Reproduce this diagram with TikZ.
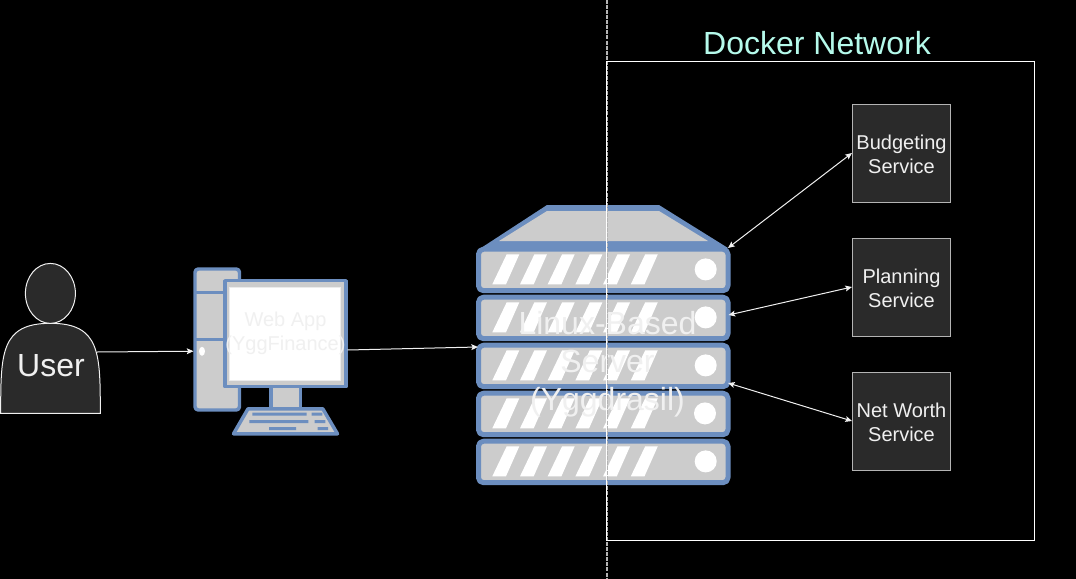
\documentclass[tikz,border=0pt]{standalone}
\usepackage{fontspec}
\setmainfont{Liberation Sans}
\usetikzlibrary{arrows.meta}
\definecolor{srvblue}{HTML}{6C8EBF}
\definecolor{srvgray}{HTML}{CCCCCC}
\definecolor{boxfill}{HTML}{2A2A2A}
\definecolor{linecol}{HTML}{F0F0F0}
\definecolor{dockertext}{HTML}{B5FAEB}
\tikzset{
  x=0.75pt,y=-0.75pt,
  hw/.style={draw=srvblue,fill=srvgray,line join=round},
  rackbox/.style={hw,line width=3.75pt,rounded corners=3.75pt},
  stripe/.style={fill=white,draw=none},
  svc/.style={draw=linecol!75!black,fill=boxfill,line width=0.75pt,minimum width=73.5pt,minimum height=73.5pt,inner sep=0pt},
  svctext/.style={text=linecol,align=center,inner sep=0pt,font=\fontsize{15}{18}\selectfont},
  bigtext/.style={text=linecol,align=center,inner sep=0pt,font=\fontsize{24}{28.5}\selectfont},
  midtext/.style={text=linecol,align=center,inner sep=0pt,font=\fontsize{15}{18}\selectfont},
  tipa/.tip={Stealth[length=5pt,width=4.4pt,inset=1pt]},
  conn/.style={draw=linecol,line width=0.75pt,-tipa},
  connb/.style={draw=linecol,line width=0.75pt,tipa-tipa},
  actor/.style={draw=linecol,fill=boxfill,line width=0.75pt},
}
\begin{document}
\begin{tikzpicture}
\useasboundingbox (0,0) rectangle (1076,579);
\fill[black] (0,0) rectangle (1076,579);

% user
\draw[actor] (0.7,413.3) .. controls (0.7,353.3) and (0.7,323.3) .. (50.5,323.3)
  .. controls (100.3,323.3) and (100.3,353.3) .. (100.3,413.3) -- cycle;
\draw[actor] (50.4,293.4) ellipse [x radius=25,y radius=30];
\node[bigtext] (user) at (51,366) {User};
\coordinate (userport) at (97,352);

% computer
\draw[hw,line width=2.6pt,rounded corners=2.5pt] (195,269) rectangle (239.5,410);
\draw[srvblue,line width=2.6pt] (195,292.3) -- (239.5,292.3) (195,339.3) -- (239.5,339.3);
\fill[white] (202,351.3) ellipse [x radius=3,y radius=4.5];
\draw[hw,line width=2.6pt] (271,386) rectangle (300.5,409);
\draw[hw,line width=2.6pt] (248,408.8) -- (322.8,408.8) -- (337.5,433.8) -- (233.5,433.8) -- cycle;
\fill[srvblue] (252.3,412.7) rectangle (306.7,415.7) (311.7,412.7) rectangle (322.3,415.7)
  (249.3,420) rectangle (308.3,423) (314.7,420) rectangle (325.3,423)
  (269,427) rectangle (296,430) (317.7,427) rectangle (328,430);
\draw[hw,line width=2.6pt] (225,280.7) rectangle (346,386.7);
\fill[white,draw=white!92!black,line width=0.75pt] (229.3,287.3) rectangle (340.7,380);
\node[midtext] (webapp) at (285.5,333.5) {Web App\\(YggFinance)};
\coordinate (pcin) at (193.5,351.2);
\coordinate (pcout) at (347.5,350);

% server
\fill[srvblue] (481,248) -- (547,205) -- (659,205) -- (728,248) -- cycle;
\fill[srvgray] (499,241) -- (547,211) -- (659,211) -- (708,241) -- cycle;
\foreach \t/\cx in {246.7/705.7,294.7/705.7,342.7/705.7,390.7/705,438.7/705.7}{
  \draw[rackbox] (478.5,\t+2.5) rectangle (728,\t+44);
  \foreach \i in {0,...,5}{
    \fill[stripe] (492.3+\i*27.7,\t+37.6) -- (506.7+\i*27.7,\t+7.6) -- (519.3+\i*27.7,\t+7.6) -- (506+\i*27.7,\t+37.6) -- cycle;
  }
  \fill[white] (\cx,\t+22.7) circle [radius=11];
}
\node[bigtext] (serverlabel) at (607.5,364.5) {Linux-Based\\Server\\(Yggdrasil)};
\coordinate (srvin) at (478,347);
\coordinate (srvtop) at (728,248);
\coordinate (srvmid) at (728.5,315);
\coordinate (srvlow) at (728,383);

% network
\draw[linecol!75!black,line width=1.3pt,dash pattern=on 3pt off 0.8pt] (606.7,0) -- (606.7,579);
\draw[white,line width=0.75pt] (606.7,61.6) rectangle (1034.3,540.3);
\node[bigtext,text=dockertext] (dockertitle) at (817,43) {Docker Network};

% services
\node[svc] (budget) at (901.5,153) {};
\node[svc] (planning) at (901.5,287) {};
\node[svc] (networth) at (901.5,421) {};
\node[svctext] (budgettext) at (901.5,154) {Budgeting\\Service};
\node[svctext] (planningtext) at (901.5,288) {Planning\\Service};
\node[svctext] (networthtext) at (901.5,422) {Net Worth\\Service};

% connectors
\draw[conn] (userport) -- (pcin);
\draw[conn] (pcout) -- (srvin);
\draw[connb] (srvtop) -- (budget.west);
\draw[connb] (srvmid) -- (planning.west);
\draw[connb] (srvlow) -- (networth.west);
\end{tikzpicture}
\end{document}
